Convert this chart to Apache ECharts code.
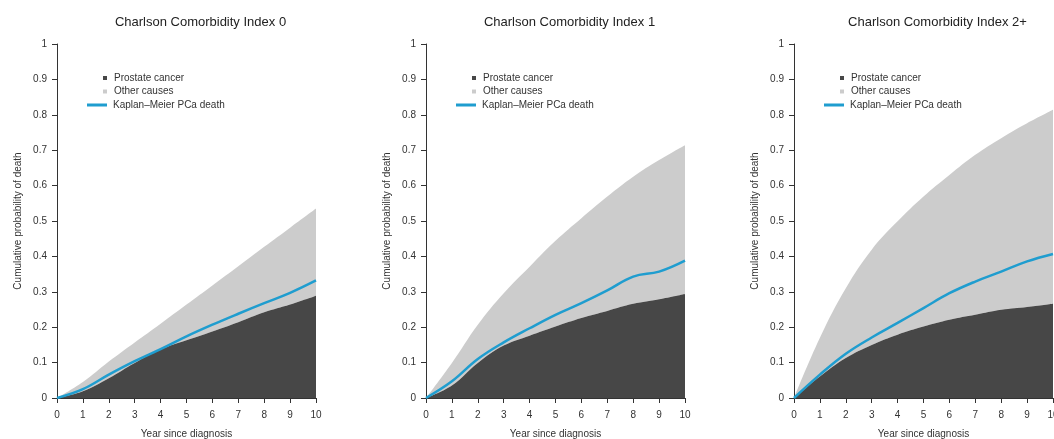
<!DOCTYPE html>
<html>
<head>
<meta charset="utf-8">
<title>Cumulative probability of death by Charlson Comorbidity Index</title>
<script src="https://cdn.jsdelivr.net/npm/echarts@6/dist/echarts.min.js"></script>
<style>
  html, body { margin: 0; padding: 0; background: #fff; }
  #mainChart { width: 1054px; height: 439px; }
</style>
</head>
<body>
<div id="mainChart"></div>
<script>
// values, one point per year
var years = ['0', '1', '2', '3', '4', '5', '6', '7', '8', '9', '10'];
var panelTitles = ['Charlson Comorbidity Index 0', 'Charlson Comorbidity Index 1', 'Charlson Comorbidity Index 2+'];
var yTicks = [0, 0.1, 0.2, 0.3, 0.4, 0.5, 0.6, 0.7, 0.8, 0.9, 1];

// cumulative incidence of prostate cancer death
var prostateCci0 = [0, 0.019, 0.056, 0.099, 0.137, 0.163, 0.188, 0.214, 0.242, 0.264, 0.289];
var prostateCci1 = [0, 0.035, 0.099, 0.148, 0.176, 0.202, 0.226, 0.246, 0.266, 0.279, 0.294];
var prostateCci2 = [0, 0.061, 0.113, 0.150, 0.179, 0.202, 0.221, 0.235, 0.249, 0.257, 0.266];

// cumulative incidence of other causes (stacked on top)
var otherCci0 = [0, 0.026, 0.047, 0.058, 0.073, 0.101, 0.130, 0.158, 0.185, 0.217, 0.246];
var otherCci1 = [0, 0.064, 0.108, 0.148, 0.195, 0.242, 0.282, 0.323, 0.359, 0.393, 0.420];
var otherCci2 = [0, 0.109, 0.197, 0.269, 0.320, 0.367, 0.409, 0.452, 0.485, 0.519, 0.548];

// Kaplan-Meier estimate of PCa death
var kmCci0 = [0, 0.025, 0.066, 0.104, 0.138, 0.174, 0.207, 0.238, 0.268, 0.297, 0.332];
var kmCci1 = [0, 0.047, 0.110, 0.157, 0.197, 0.235, 0.268, 0.304, 0.343, 0.357, 0.388];
var kmCci2 = [0, 0.066, 0.125, 0.171, 0.212, 0.254, 0.296, 0.329, 0.357, 0.386, 0.407];

var prostateAll = [prostateCci0, prostateCci1, prostateCci2];
var otherAll = [otherCci0, otherCci1, otherCci2];
var kmAll = [kmCci0, kmCci1, kmCci2];

var NAME_PCA = 'Prostate cancer';
var NAME_OTHER = 'Other causes';
var NAME_KM = 'Kaplan\u2013Meier PCa death';

var FONT = '"Liberation Sans", Arial, Helvetica, sans-serif';
var DARK = '#474747';
var LIGHT = '#cccccc';
var BLUE = '#1f9dcf';

var panelLeft = [57, 426, 794];
var plotWidth = 259;

function chartInit() {
  var myChart = echarts.init(document.getElementById('mainChart'));

  var grid = [], xAxis = [], yAxis = [], series = [], legend = [], graphic = [];

  for (var p = 0; p < 3; p++) {
    var left = panelLeft[p];
    grid.push({ left: left, top: 44, width: plotWidth, height: 354, outerBoundsMode: 'none' });

    xAxis.push({
      type: 'category', gridIndex: p, data: years, boundaryGap: false,
      name: 'Year since diagnosis', nameLocation: 'middle', nameGap: 31,
      nameTextStyle: { fontFamily: FONT, fontSize: 10, color: '#333' },
      axisLine: { show: true, lineStyle: { color: '#333', width: 1 } },
      axisTick: { show: true, length: 5, alignWithLabel: true, lineStyle: { color: '#333' } },
      axisLabel: { fontFamily: FONT, fontSize: 10, color: '#333', margin: 12, interval: 0 },
      splitLine: { show: false }
    });

    yAxis.push({
      type: 'value', gridIndex: p, min: yTicks[0], max: yTicks[yTicks.length - 1], interval: 0.1,
      name: 'Cumulative probability of death', nameLocation: 'middle', nameGap: 34,
      nameTextStyle: { fontFamily: FONT, fontSize: 10, color: '#333' },
      axisLine: { show: true, lineStyle: { color: '#333', width: 1 } },
      axisTick: { show: true, length: 5, lineStyle: { color: '#333' } },
      axisLabel: { fontFamily: FONT, fontSize: 10, color: '#333', margin: 10 },
      splitLine: { show: false }
    });

    series.push({
      name: NAME_PCA, type: 'line', xAxisIndex: p, yAxisIndex: p,
      stack: 'panel' + p, data: prostateAll[p],
      smooth: 0.4, symbol: 'none', silent: true,
      itemStyle: { color: DARK },
      lineStyle: { width: 0 },
      areaStyle: { color: DARK, opacity: 1 },
      z: 2
    });
    series.push({
      name: NAME_OTHER, type: 'line', xAxisIndex: p, yAxisIndex: p,
      stack: 'panel' + p, data: otherAll[p],
      smooth: 0.4, symbol: 'none', silent: true,
      itemStyle: { color: LIGHT },
      lineStyle: { width: 0 },
      areaStyle: { color: LIGHT, opacity: 1 },
      z: 1
    });
    series.push({
      name: NAME_KM, type: 'line', xAxisIndex: p, yAxisIndex: p,
      data: kmAll[p],
      smooth: 0.4, symbol: 'none', silent: true,
      itemStyle: { color: BLUE },
      lineStyle: { color: BLUE, width: 2.5 },
      z: 3
    });

    legend.push({
      orient: 'vertical', left: left + 41, top: 67,
      data: [NAME_PCA, NAME_OTHER], icon: 'rect',
      itemWidth: 4, itemHeight: 4, itemGap: 1.5, selectedMode: false,
      textStyle: { fontFamily: FONT, fontSize: 10, color: '#333', lineHeight: 12, padding: [0, 0, 0, 2] }
    });
    legend.push({
      orient: 'vertical', left: left + 25, top: 94,
      data: [NAME_KM], icon: 'rect',
      itemWidth: 20, itemHeight: 3, selectedMode: false,
      textStyle: { fontFamily: FONT, fontSize: 10, color: '#333', lineHeight: 12, padding: [0, 0, 0, 1] }
    });

    graphic.push({
      type: 'text', x: left + plotWidth / 2 + 14, y: 22,
      style: {
        text: panelTitles[p], fill: '#222', font: '13px ' + FONT,
        textAlign: 'center', textVerticalAlign: 'middle'
      }
    });
  }

  var option = {
    backgroundColor: '#fff',
    animation: false,
    grid: grid,
    xAxis: xAxis,
    yAxis: yAxis,
    legend: legend,
    graphic: graphic,
    series: series
  };
  myChart.setOption(option);
}

chartInit();
</script>
</body>
</html>
